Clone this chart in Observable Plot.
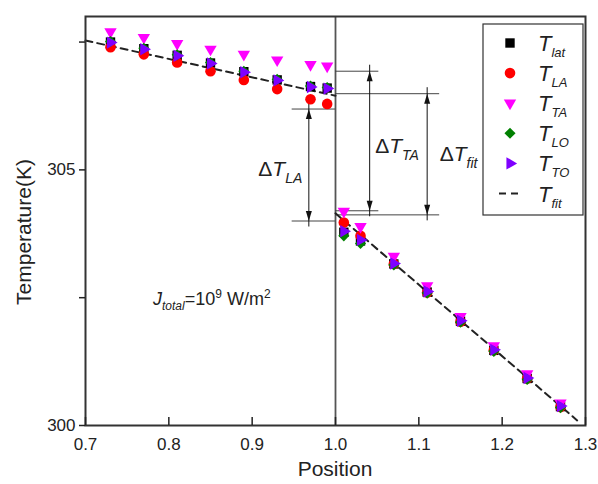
<!DOCTYPE html>
<html><head><meta charset="utf-8">
<script src="https://cdn.jsdelivr.net/npm/d3@7"></script>
<script src="https://cdn.jsdelivr.net/npm/@observablehq/plot@0.6"></script>
<style>
body{margin:0;background:#fff}
svg{font-family:"Liberation Sans",Arial,sans-serif}
</style>
</head><body><div id="chart"></div>
<script>
// ---- data ----
const positions = [0.73,0.77,0.81,0.85,0.89,0.93,0.97,0.99, 1.01,1.03,1.07,1.11,1.15,1.19,1.23,1.27];
const T_lat = [307.50,307.37,307.24,307.09,306.92,306.76,306.63,306.60, 303.78,303.61,303.16,302.61,302.04,301.47,300.92,300.37];
const T_LA  = [307.40,307.26,307.10,306.93,306.76,306.58,306.38,306.29, 303.97,303.71,303.16,302.60,302.03,301.47,300.92,300.36];
const T_TA  = [307.70,307.59,307.47,307.36,307.26,307.15,307.06,307.03, 304.19,303.89,303.31,302.73,302.13,301.56,301.01,300.44];
const T_LO  = [307.51,307.38,307.25,307.10,306.93,306.77,306.64,306.61, 303.71,303.56,303.14,302.59,302.02,301.45,300.90,300.35];
const T_TO  = [307.49,307.36,307.23,307.08,306.91,306.75,306.62,306.59, 303.80,303.63,303.17,302.62,302.05,301.48,300.93,300.38];
const fitLeftX  = [0.70, 1.00];
const fitLeftT  = [307.53, 306.45];
const fitRightX = [1.00, 1.29];
const fitRightT = [304.15, 300.10];
const seriesKeys = ["lat","LA","TA","LO","TO"];
const xTicks = [0.7,0.8,0.9,1.0,1.1,1.2,1.3];
const yTicks = [300,302.5,305,307.5];
const yTickLabels = [300,305];
const bracketNames = ["LA","TA","fit"];
const bracketTop    = [306.19, 306.93, 306.49];
const bracketBottom = [304.00, 304.20, 304.12];
const bracketFrom   = [0.948, 1.0, 1.0];
const bracketTo     = [1.0, 1.052, 1.125];
const bracketArrowX = [0.968, 1.041, 1.110];

// ---- styles ----
const seriesStyle = {
  lat: {symbol:"square",   rotate:0,   color:"#000000", r:5.3},
  LA:  {symbol:"circle",   rotate:0,   color:"#ff0000", r:5.3},
  TA:  {symbol:"triangle", rotate:180, color:"#ff00ff", r:4.6},
  LO:  {symbol:"diamond2", rotate:0,   color:"#008000", r:5.0},
  TO:  {symbol:"triangle", rotate:90,  color:"#7f00ff", r:4.6}
};
const seriesValues = {lat:T_lat, LA:T_LA, TA:T_TA, LO:T_LO, TO:T_TO};
const d3Symbols = {square:d3.symbolSquare, circle:d3.symbolCircle, triangle:d3.symbolTriangle, diamond2:d3.symbolDiamond2};

const rowsFor = k => positions.map((x,i)=>({x, y:seriesValues[k][i]}));
const fitLeft = fitLeftX.map((x,i)=>({x, y:fitLeftT[i]}));
const fitRight = fitRightX.map((x,i)=>({x, y:fitRightT[i]}));
const brackets = bracketNames.map((n,i)=>({name:n, top:bracketTop[i], bottom:bracketBottom[i], x1:bracketFrom[i], x2:bracketTo[i], ax:bracketArrowX[i]}));
const bracketLines = brackets.flatMap(b=>[{y:b.top,x1:b.x1,x2:b.x2},{y:b.bottom,x1:b.x1,x2:b.x2}]);
const arrowHead = {draw(ctx){ ctx.moveTo(0,0); ctx.lineTo(-3,10); ctx.lineTo(3,10); ctx.closePath(); }};

const chart = Plot.plot({
  width: 598, height: 484,
  marginLeft: 85, marginRight: 13, marginTop: 16, marginBottom: 59,
  x: {domain: [0.7, 1.3]},
  y: {domain: [300, 308]},
  style: {fontFamily: "Liberation Sans, Arial, sans-serif", color: "#222", background: "#fff"},
  marks: [
    Plot.ruleX([1.0], {stroke:"#555", strokeWidth:1.8}),
    Plot.ruleY(bracketLines, {y:"y", x1:"x1", x2:"x2", stroke:"#444", strokeWidth:1}),
    Plot.ruleX(brackets, {x:"ax", y1:"bottom", y2:"top", stroke:"#111", strokeWidth:1, insetTop:6, insetBottom:6}),
    Plot.dot(brackets, {x:"ax", y:"top", symbol:arrowHead, fill:"#111", stroke:"none", rotate:0}),
    Plot.dot(brackets, {x:"ax", y:"bottom", symbol:arrowHead, fill:"#111", stroke:"none", rotate:180}),
    Plot.line(fitLeft, {x:"x", y:"y", stroke:"#222", strokeWidth:2, strokeDasharray:"7,5"}),
    Plot.line(fitRight, {x:"x", y:"y", stroke:"#222", strokeWidth:2, strokeDasharray:"7,5"}),
    ...seriesKeys.map(k => Plot.dot(rowsFor(k), {x:"x", y:"y", symbol:seriesStyle[k].symbol, rotate:seriesStyle[k].rotate, fill:seriesStyle[k].color, stroke:"none", r:seriesStyle[k].r})),
    Plot.frame({stroke:"#333", strokeWidth:2}),
    Plot.axisX({ticks:xTicks, tickSize:-8, tickFormat:()=>"", label:null, strokeWidth:1.5}),
    Plot.axisX({ticks:xTicks, tickSize:0, tickPadding:12, tickFormat:d3.format(".1f"), fontSize:17, label:null}),
    Plot.axisY({ticks:yTicks, tickSize:6, tickPadding:4, tickFormat:d=>yTickLabels.includes(d)?String(d):"", fontSize:17, label:null, strokeWidth:1.5})
  ]
});
document.getElementById("chart").appendChild(chart);

// ---- annotations ----
const svg = d3.select(chart);
const xs = chart.scale("x"), ys = chart.scale("y");
function rich(x, y, parts, anchor="start") {
  const t = svg.append("text").attr("x", x).attr("y", y).attr("text-anchor", anchor).attr("fill", "#222");
  parts.forEach(p => {
    const s = t.append("tspan").text(p.t).attr("font-size", p.size);
    if (p.italic) s.attr("font-style", "italic");
    if (p.dy) s.attr("dy", p.dy);
    if (p.dx) s.attr("dx", p.dx);
  });
  return t;
}
const cx = (xs.range[0]+xs.range[1])/2;
svg.append("text").attr("x", cx).attr("y", 476).attr("text-anchor","middle").attr("font-size",21).attr("fill","#222").text("Position");
svg.append("text").attr("transform", `translate(31,232) rotate(-90)`).attr("text-anchor","middle").attr("font-size",21).attr("fill","#222").text("Temperature(K)");

// ΔT labels
const labelOffsets = {LA:{dx:-50, dy:11}, TA:{dx:6, dy:13}, fit:{dx:13, dy:7}};
brackets.forEach(b => {
  const px = xs.apply(b.ax) + labelOffsets[b.name].dx;
  const py = (ys.apply(b.top)+ys.apply(b.bottom))/2 + labelOffsets[b.name].dy;
  rich(px, py, [{t:"Δ", size:21},{t:"T", size:21, italic:true},{t:b.name, size:14, italic:true, dy:7}]);
});

// J_total label
rich(153, 305, [{t:"J", size:18, italic:true},{t:"total", size:12, italic:true, dy:5},{t:"=10", size:18, dy:-5},{t:"9", size:12, dy:-7},{t:" W/m", size:18, dy:7},{t:"2", size:12, dy:-7}]);

// legend
const lg = svg.append("g");
lg.append("rect").attr("x",483).attr("y",24).attr("width",100).attr("height",191).attr("fill","#fff").attr("stroke","#333").attr("stroke-width",1.2);
seriesKeys.forEach((k,i) => {
  const s = seriesStyle[k];
  const cy = 43 + i*30.1;
  lg.append("path").attr("d", d3.symbol(d3Symbols[s.symbol], s.r*s.r*Math.PI)()).attr("transform", `translate(510,${cy}) rotate(${s.rotate})`).attr("fill", s.color);
  rich(538, cy+8, [{t:"T", size:22, italic:true},{t:k, size:13, italic:true, dy:6}]);
});
const fy = 43 + 5*30.1;
lg.append("line").attr("x1",499).attr("x2",522).attr("y1",fy).attr("y2",fy).attr("stroke","#222").attr("stroke-width",2).attr("stroke-dasharray","7,5");
rich(538, fy+8, [{t:"T", size:22, italic:true},{t:"fit", size:13, italic:true, dy:6}]);
</script>
</body></html>
